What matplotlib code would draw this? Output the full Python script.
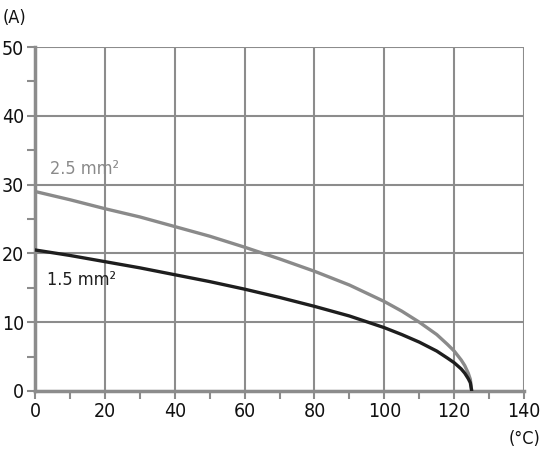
import matplotlib
matplotlib.use("Agg")
import matplotlib.pyplot as plt
from matplotlib.ticker import MultipleLocator

plt.rcParams['font.family'] = ['DejaVu Sans']
plt.rcParams['font.stretch'] = 'condensed'

# Current vs ambient temperature
temp = [0, 10, 20, 30, 40, 50, 60, 70, 80, 90, 100, 105, 110, 115, 118, 120, 122, 123, 124, 124.6, 125]
amp_25 = [29.0, 27.8, 26.5, 25.3, 23.9, 22.5, 20.9, 19.2, 17.4, 15.4, 13.0, 11.6, 10.0, 8.2, 6.8, 5.8, 4.5, 3.7, 2.6, 1.7, 0.0]
amp_15 = [20.5, 19.7, 18.8, 17.9, 16.9, 15.9, 14.8, 13.6, 12.3, 10.9, 9.2, 8.2, 7.1, 5.8, 4.8, 4.1, 3.2, 2.6, 1.8, 1.2, 0.0]

x_ticks = [0, 20, 40, 60, 80, 100, 120, 140]
y_ticks = [0, 10, 20, 30, 40, 50]

grid_col = '#8c8c8c'

fig = plt.figure(figsize=(5.42, 4.55), dpi=100)
ax = fig.add_axes([0.0646, 0.1407, 0.9024, 0.756])

ax.plot(temp, amp_25, color='#8a8a8a', linewidth=2.4, zorder=3)
ax.plot(temp, amp_15, color='#1e1e1e', linewidth=2.4, zorder=3)

ax.set_xlim(0, 140)
ax.set_ylim(0, 50)
ax.set_xticks(x_ticks)
ax.set_yticks(y_ticks)
ax.xaxis.set_minor_locator(MultipleLocator(10))
ax.yaxis.set_minor_locator(MultipleLocator(5))

ax.grid(True, which='major', color=grid_col, linewidth=1.5)
ax.set_axisbelow(True)

for side in ['top', 'right']:
    ax.spines[side].set_visible(False)
for side in ['left', 'bottom']:
    ax.spines[side].set_color(grid_col)
    ax.spines[side].set_linewidth(2.5)

ax.tick_params(which='major', length=6, width=1.5, color=grid_col,
               labelsize=14, labelcolor='#111111', pad=2)
ax.tick_params(which='minor', length=6, width=1.5, color=grid_col)

ax.text(4.3, 32.2, '2.5 mm²', color='#8a8a8a', fontsize=13, va='center', ha='left')
ax.text(3.4, 16.2, '1.5 mm²', color='#1e1e1e', fontsize=13, va='center', ha='left')

fig.text(0.005, 0.96, '(A)', fontsize=13, color='#111111', ha='left', va='center')
fig.text(0.997, 0.035, '(°C)', fontsize=13, color='#111111', ha='right', va='center')

fig.savefig('out.png', dpi=100)
plt.close(fig)
